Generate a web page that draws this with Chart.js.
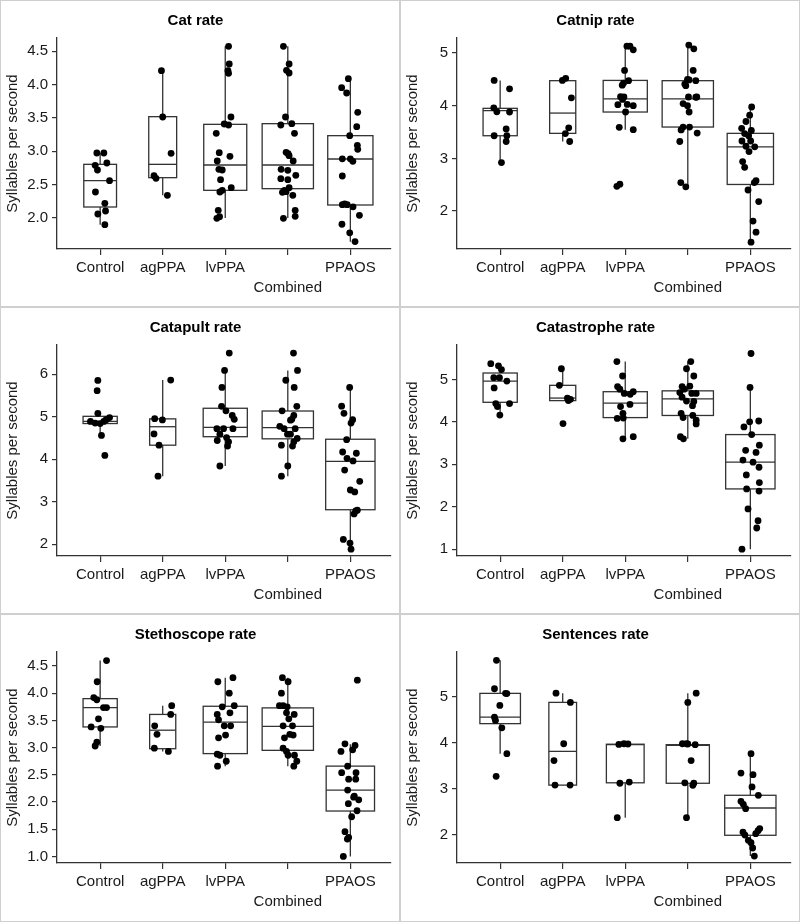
<!DOCTYPE html>
<html><head><meta charset="utf-8">
<script src="https://cdn.jsdelivr.net/npm/chart.js@4.4.1/dist/chart.umd.min.js"></script>
<style>
html,body{margin:0;padding:0;background:#fff;}
#wrap{position:relative;width:800px;height:922px;overflow:hidden;background:#fff;}
#wrap canvas{position:absolute;}
.sep{position:absolute;background:#cfcfcf;z-index:5;}
</style></head>
<body><div id="wrap"></div>
<script>
// ---------- shared categories / labels ----------
const categories = ['Control', 'agPPA', 'lvPPA', 'Combined', 'PPAOS'];
const xTickLabels = ['Control', 'agPPA', 'lvPPA', ['', 'Combined'], 'PPAOS'];
const yAxisTitle = 'Syllables per second';

// ---------- Cat rate ----------
const catRateValues = [
  [2.975, 2.975, 2.79, 2.72, 2.825, 2.56, 2.39, 2.22, 2.06, 2.105, 1.9],
  [4.21, 3.515, 2.97, 2.635, 2.595, 2.34],
  [4.575, 4.31, 4.21, 4.17, 3.515, 3.41, 3.395, 3.27, 2.98, 2.925, 2.855, 2.73, 2.72, 2.575, 2.455, 2.415, 2.39, 2.115, 1.995, 2.02],
  [4.575, 4.31, 4.215, 4.175, 3.515, 3.395, 3.415, 3.27, 2.985, 2.965, 2.935, 2.855, 2.73, 2.715, 2.64, 2.59, 2.575, 2.455, 2.415, 2.385, 2.395, 2.34, 2.115, 1.995, 2.025],
  [4.09, 3.955, 3.875, 3.585, 3.37, 3.235, 3.09, 3.03, 2.887, 2.887, 2.85, 2.63, 2.2, 2.21, 2.2, 2.167, 2.04, 1.906, 1.777, 1.647]
];
const catRateJitter = [
  [-0.053, 0.059, -0.08, -0.043, 0.107, 0.15, -0.075, 0.075, -0.037, 0.086, 0.075],
  [-0.02, 0, 0.134, -0.139, -0.107, 0.075],
  [0.053, 0.064, 0.043, 0.053, 0.091, -0.016, 0.053, -0.144, -0.096, 0.075, -0.128, -0.102, -0.048, -0.075, 0.096, -0.048, -0.086, -0.112, -0.134, -0.091],
  [-0.07, 0.021, -0.021, 0.021, -0.037, -0.112, 0.064, 0.107, -0.027, 0.005, 0.021, 0.086, -0.107, 0, 0.128, -0.112, 0, 0.021, -0.053, -0.086, -0.027, 0.08, 0.118, -0.07, 0.118],
  [-0.032, -0.139, -0.059, 0.118, 0.102, -0.01, 0.112, 0.118, -0.128, 0, 0.04, -0.128, -0.128, -0.09, -0.05, 0.043, 0.145, -0.134, -0.01, 0.075]
];
// [lower whisker, Q1, median, Q3, upper whisker]
const catRateBoxes = [
  [1.90, 2.165, 2.56, 2.805, 2.975],
  [2.34, 2.605, 2.805, 3.52, 4.21],
  [2.00, 2.415, 2.795, 3.405, 4.575],
  [2.00, 2.44, 2.795, 3.415, 4.575],
  [1.645, 2.195, 2.885, 3.235, 4.09]
];
const catRateN = [11, 8, 19, 27, 21];
const catRateYRange = [1.535, 4.70];
const catRateYTicks = [2.0, 2.5, 3.0, 3.5, 4.0, 4.5];
const catRateYTickLabels = ['2.0', '2.5', '3.0', '3.5', '4.0', '4.5'];

// ---------- Catnip rate ----------
const catnipRateValues = [
  [4.48, 4.32, 3.96, 3.885, 3.88, 3.56, 3.43, 3.43, 3.32, 2.92],
  [4.48, 4.52, 4.15, 3.58, 3.47, 3.32],
  [5.13, 5.13, 5.06, 4.67, 4.475, 4.39, 4.43, 4.17, 4.165, 4.12, 4.025, 4.0, 4.02, 3.88, 3.59, 3.545, 2.47, 2.51],
  [5.15, 5.08, 4.67, 4.49, 4.475, 4.41, 4.38, 4.5, 4.165, 4.165, 4.04, 4.0, 4.16, 3.88, 3.595, 3.595, 3.32, 3.48, 3.54, 2.54, 2.46],
  [3.975, 3.82, 3.70, 3.57, 3.53, 3.47, 3.43, 3.33, 3.33, 3.22, 3.23, 3.13, 2.94, 2.83, 2.54, 2.575, 2.40, 2.18, 1.81, 1.60, 1.41]
];
const catnipRateJitter = [
  [-0.096, 0.15, -0.102, -0.053, 0.15, 0.096, -0.096, 0.107, 0.096, 0.021],
  [-0.005, 0.048, 0.139, 0.096, 0.043, 0.112],
  [0.027, 0.075, 0.128, -0.011, 0.053, -0.048, -0.027, -0.075, -0.021, -0.043, 0.032, 0.128, -0.118, 0.005, -0.096, 0.128, -0.134, -0.086],
  [0.016, 0.096, 0.086, 0.021, 0.128, -0.048, -0.032, -0.005, 0.011, 0.144, -0.075, -0.005, 0.128, 0.021, -0.075, 0.027, -0.128, 0.15, -0.107, -0.112, -0.032],
  [0.021, -0.011, -0.07, -0.139, 0.016, -0.091, -0.027, -0.134, 0.005, 0.07, -0.07, -0.021, -0.123, -0.091, 0.064, 0.091, -0.037, 0.134, 0.043, 0.091, 0.011]
];
const catnipRateBoxes = [
  [2.92, 3.43, 3.905, 3.95, 4.48],
  [3.32, 3.475, 3.86, 4.475, 4.52],
  [3.545, 3.88, 4.13, 4.48, 5.13],
  [2.46, 3.595, 4.13, 4.475, 5.13],
  [1.41, 2.505, 3.22, 3.475, 3.975]
];
const catnipRateN = [12, 7, 20, 27, 22];
const catnipRateYRange = [1.28, 5.285];
const catnipRateYTicks = [2, 3, 4, 5];
const catnipRateYTickLabels = ['2', '3', '4', '5'];

// ---------- Catapult rate ----------
const catapultRateValues = [
  [5.855, 5.615, 5.08, 4.98, 4.89, 4.85, 4.84, 4.89, 4.56, 4.09, 4.93],
  [5.865, 4.955, 4.925, 4.595, 4.33, 3.60],
  [6.5, 6.09, 5.69, 5.245, 5.14, 5.03, 4.94, 4.72, 4.72, 4.72, 4.59, 4.51, 4.44, 4.41, 4.31, 3.84],
  [6.5, 6.09, 5.86, 5.69, 5.245, 5.14, 5.03, 4.94, 4.92, 4.775, 4.72, 4.72, 4.59, 4.59, 4.49, 4.41, 4.31, 4.33, 3.84, 3.60],
  [5.69, 5.25, 5.08, 4.93, 4.85, 4.46, 4.17, 4.02, 3.96, 4.14, 3.745, 3.48, 3.275, 3.23, 2.80, 2.71, 2.78, 2.11, 2.025, 1.88]
];
const catapultRateJitter = [
  [-0.037, -0.048, -0.037, 0.15, -0.155, -0.08, 0, 0.059, 0.021, 0.075, 0.096],
  [0.128, -0.128, -0.005, -0.139, -0.059, -0.075],
  [0.064, -0.011, -0.053, -0.059, 0.011, 0.112, 0.144, -0.134, -0.027, 0.123, -0.086, 0.021, -0.128, 0.053, 0.037, -0.086],
  [0.091, 0.155, -0.032, 0.102, 0.144, -0.091, 0.096, 0.064, 0.043, -0.128, -0.059, 0.118, -0.005, 0.043, 0.15, 0.096, 0.075, -0.102, 0, -0.102],
  [-0.011, -0.139, -0.102, 0.037, 0.011, -0.059, -0.123, -0.053, 0.043, 0.096, -0.091, 0.15, 0, 0.07, 0.112, 0.059, 0.086, -0.112, -0.005, 0.011]
];
const catapultRateBoxes = [
  [4.56, 4.84, 4.89, 5.01, 5.07],
  [3.60, 4.33, 4.765, 4.95, 5.865],
  [3.84, 4.53, 4.75, 5.20, 6.09],
  [3.60, 4.48, 4.745, 5.135, 6.09],
  [1.88, 2.81, 3.95, 4.47, 5.69]
];
const catapultRateN = [12, 7, 20, 27, 25];
const catapultRateYRange = [1.72, 6.69];
const catapultRateYTicks = [2, 3, 4, 5, 6];
const catapultRateYTickLabels = ['2', '3', '4', '5', '6'];

// ---------- Catastrophe rate ----------
const catastropheRateValues = [
  [5.37, 5.32, 5.23, 5.04, 5.04, 4.96, 4.80, 4.43, 4.43, 4.36, 4.16],
  [5.25, 4.86, 4.56, 4.53, 4.50, 3.96],
  [5.42, 5.08, 4.83, 4.77, 4.67, 4.71, 4.65, 4.36, 4.41, 4.20, 4.08, 4.09, 3.60, 3.65],
  [5.42, 5.25, 5.08, 4.83, 4.84, 4.77, 4.69, 4.67, 4.67, 4.58, 4.49, 4.48, 4.38, 4.20, 4.10, 4.15, 4.04, 3.95, 3.65, 3.60],
  [5.61, 4.81, 4.0, 4.02, 3.88, 3.70, 3.45, 3.33, 3.28, 3.10, 3.05, 2.93, 2.75, 2.57, 2.42, 2.37, 1.95, 1.67, 1.50, 1.0]
];
const catastropheRateJitter = [
  [-0.15, -0.027, 0.021, -0.102, -0.011, 0.107, -0.096, -0.07, 0.15, -0.043, -0.005],
  [-0.021, -0.053, 0.075, 0.123, 0.091, 0.005],
  [-0.134, -0.043, -0.123, -0.086, -0.016, 0.128, 0.08, -0.075, 0.075, -0.037, -0.128, -0.032, -0.037, 0.128],
  [0.048, -0.021, 0.096, -0.091, 0.032, -0.059, -0.128, 0.064, 0.134, -0.091, -0.021, 0.096, 0.075, -0.107, -0.075, 0.08, 0.134, 0.134, -0.118, -0.07],
  [0.011, -0.005, -0.011, 0.134, -0.102, 0.021, 0.144, -0.075, 0.091, -0.118, 0.043, 0.139, -0.064, 0.144, -0.059, 0.139, -0.037, 0.123, 0.102, -0.134]
];
const catastropheRateBoxes = [
  [4.16, 4.46, 4.96, 5.15, 5.37],
  [4.50, 4.50, 4.56, 4.86, 5.25],
  [3.60, 4.10, 4.44, 4.71, 5.42],
  [3.60, 4.15, 4.54, 4.73, 5.42],
  [1.0, 2.42, 3.05, 3.70, 4.81]
];
const catastropheRateN = [12, 7, 20, 27, 25];
const catastropheRateYRange = [0.84, 5.81];
const catastropheRateYTicks = [1, 2, 3, 4, 5];
const catastropheRateYTickLabels = ['1', '2', '3', '4', '5'];

// ---------- Stethoscope rate ----------
const stethoscopeRateValues = [
  [4.60, 4.21, 3.92, 3.88, 3.735, 3.735, 3.53, 3.38, 3.355, 3.10, 3.03],
  [3.77, 3.61, 3.40, 3.245, 2.99, 2.93],
  [4.285, 4.21, 4.0, 3.75, 3.77, 3.64, 3.61, 3.51, 3.40, 3.40, 3.23, 3.18, 2.88, 2.86, 2.75, 2.66],
  [4.285, 4.21, 4.0, 3.77, 3.77, 3.64, 3.53, 3.61, 3.40, 3.40, 3.245, 3.23, 3.18, 2.99, 2.93, 2.86, 2.86, 2.75, 2.66, 3.75],
  [4.24, 3.07, 3.04, 2.93, 2.96, 2.66, 2.54, 2.54, 2.42, 2.42, 2.22, 2.11, 2.09, 2.04, 1.97, 1.84, 1.73, 1.456, 1.35, 1.32, 1.0]
];
const stethoscopeRateJitter = [
  [0.102, -0.048, -0.102, -0.053, 0.053, 0.102, -0.027, -0.144, 0.011, -0.053, -0.08],
  [0.144, 0.128, -0.128, -0.091, -0.134, 0.091],
  [0.123, -0.118, 0.064, -0.048, 0.144, 0.075, -0.128, -0.107, -0.016, 0.086, 0.005, -0.107, -0.128, -0.086, 0.016, -0.123],
  [-0.086, 0.005, -0.102, -0.134, -0.075, -0.021, 0.016, 0.102, -0.075, 0.075, 0.032, 0.086, -0.053, -0.075, -0.021, 0.005, 0.107, 0.144, 0.096, -0.011],
  [0.112, -0.086, 0.075, -0.15, 0.037, -0.043, -0.139, 0.091, -0.027, 0.086, -0.043, 0.064, 0.053, 0.134, -0.032, 0.107, 0.021, -0.086, -0.027, -0.048, -0.112]
];
const stethoscopeRateBoxes = [
  [3.03, 3.38, 3.735, 3.90, 4.60],
  [2.93, 2.98, 3.32, 3.61, 3.77],
  [2.66, 2.89, 3.47, 3.76, 4.285],
  [2.66, 2.95, 3.39, 3.73, 4.285],
  [1.0, 1.835, 2.22, 2.66, 3.06]
];
const stethoscopeRateN = [12, 7, 20, 27, 24];
const stethoscopeRateYRange = [0.88, 4.757];
const stethoscopeRateYTicks = [1.0, 1.5, 2.0, 2.5, 3.0, 3.5, 4.0, 4.5];
const stethoscopeRateYTickLabels = ['1.0', '1.5', '2.0', '2.5', '3.0', '3.5', '4.0', '4.5'];

// ---------- Sentences rate ----------
const sentencesRateValues = [
  [5.78, 5.165, 5.065, 5.06, 4.805, 4.55, 4.48, 4.32, 3.76, 3.27],
  [5.07, 4.87, 3.975, 3.61, 3.08, 3.08],
  [3.96, 3.975, 3.97, 3.12, 3.145, 2.375],
  [5.07, 4.87, 3.975, 3.975, 3.955, 3.61, 3.13, 3.075, 3.12, 2.375, 3.97],
  [3.76, 3.34, 3.305, 3.04, 2.86, 2.73, 2.665, 2.57, 2.065, 2.095, 2.14, 2.03, 2.0, 1.885, 1.835, 1.72, 1.545]
];
const sentencesRateJitter = [
  [-0.059, -0.091, 0.086, 0.107, -0.005, -0.091, -0.075, 0.027, 0.107, -0.064],
  [-0.107, 0.123, 0.016, -0.139, -0.123, 0.118],
  [-0.102, -0.021, 0.043, -0.086, 0.064, -0.128],
  [0.134, 0, -0.086, -0.021, 0.118, 0.053, -0.048, 0.08, 0.096, -0.021, 0],
  [0.011, -0.15, 0.043, 0.027, 0.128, -0.15, -0.112, -0.075, -0.118, 0.123, 0.15, 0.086, -0.086, -0.032, 0.011, 0.037, 0.064]
];
const sentencesRateBoxes = [
  [3.76, 4.41, 4.55, 5.065, 5.78],
  [3.08, 3.08, 3.81, 4.87, 5.07],
  [2.375, 3.13, 3.955, 3.965, 3.975],
  [2.375, 3.12, 3.94, 3.955, 5.07],
  [1.545, 1.995, 2.585, 2.86, 3.76]
];
const sentencesRateN = [15, 7, 13, 17, 24];
const sentencesRateYRange = [1.395, 5.96];
const sentencesRateYTicks = [2, 3, 4, 5];
const sentencesRateYTickLabels = ['2', '3', '4', '5'];

// ---------- panel list ----------
const panels = [
  {title: 'Cat rate', values: catRateValues, jitter: catRateJitter, boxes: catRateBoxes, n: catRateN, yRange: catRateYRange, yTicks: catRateYTicks, yLabels: catRateYTickLabels},
  {title: 'Catnip rate', values: catnipRateValues, jitter: catnipRateJitter, boxes: catnipRateBoxes, n: catnipRateN, yRange: catnipRateYRange, yTicks: catnipRateYTicks, yLabels: catnipRateYTickLabels},
  {title: 'Catapult rate', values: catapultRateValues, jitter: catapultRateJitter, boxes: catapultRateBoxes, n: catapultRateN, yRange: catapultRateYRange, yTicks: catapultRateYTicks, yLabels: catapultRateYTickLabels},
  {title: 'Catastrophe rate', values: catastropheRateValues, jitter: catastropheRateJitter, boxes: catastropheRateBoxes, n: catastropheRateN, yRange: catastropheRateYRange, yTicks: catastropheRateYTicks, yLabels: catastropheRateYTickLabels},
  {title: 'Stethoscope rate', values: stethoscopeRateValues, jitter: stethoscopeRateJitter, boxes: stethoscopeRateBoxes, n: stethoscopeRateN, yRange: stethoscopeRateYRange, yTicks: stethoscopeRateYTicks, yLabels: stethoscopeRateYTickLabels},
  {title: 'Sentences rate', values: sentencesRateValues, jitter: sentencesRateJitter, boxes: sentencesRateBoxes, n: sentencesRateN, yRange: sentencesRateYRange, yTicks: sentencesRateYTicks, yLabels: sentencesRateYTickLabels}
];

// ---------- style ----------
const FONT = "'Liberation Sans', Arial, Helvetica, sans-serif";
const AXIS_COLOR = '#333333';
const TEXT_COLOR = '#1a1a1a';
const BOX_FULL_WIDTH = 0.82;   // in category units, for the largest group
const PANEL_W = 400, PANEL_H = 307;

function makeBoxPlugin(p) {
  return {
    id: 'boxplots',
    beforeDatasetsDraw(chart) {
      const {ctx, scales: {x, y}} = chart;
      const nmax = Math.max(...p.n);
      ctx.save();
      ctx.strokeStyle = AXIS_COLOR;
      ctx.lineWidth = 1.3;
      p.boxes.forEach((b, i) => {
        const hw = BOX_FULL_WIDTH / 2 * Math.sqrt(p.n[i] / nmax);
        const xl = x.getPixelForValue(i - hw);
        const xr = x.getPixelForValue(i + hw);
        const xc = x.getPixelForValue(i);
        const lo = y.getPixelForValue(b[0]);
        const q1 = y.getPixelForValue(b[1]);
        const med = y.getPixelForValue(b[2]);
        const q3 = y.getPixelForValue(b[3]);
        const hi = y.getPixelForValue(b[4]);
        ctx.beginPath();
        ctx.moveTo(xc, q3); ctx.lineTo(xc, hi);
        ctx.moveTo(xc, q1); ctx.lineTo(xc, lo);
        ctx.stroke();
        ctx.fillStyle = '#ffffff';
        ctx.fillRect(xl, q3, xr - xl, q1 - q3);
        ctx.strokeRect(xl, q3, xr - xl, q1 - q3);
        ctx.beginPath();
        ctx.moveTo(xl, med); ctx.lineTo(xr, med);
        ctx.stroke();
      });
      ctx.restore();
    }
  };
}

const wrap = document.getElementById('wrap');
panels.forEach((p, k) => {
  const col = k % 2, row = Math.floor(k / 2);
  const cv = document.createElement('canvas');
  cv.width = PANEL_W; cv.height = PANEL_H;
  cv.style.left = (col * PANEL_W) + 'px';
  cv.style.top = (row * PANEL_H) + 'px';
  cv.style.width = PANEL_W + 'px';
  cv.style.height = PANEL_H + 'px';
  wrap.appendChild(cv);

  const pts = [];
  p.values.forEach((vals, i) => {
    vals.forEach((v, j) => pts.push({x: i + p.jitter[i][j], y: v}));
  });

  new Chart(cv, {
    type: 'scatter',
    data: {datasets: [{
      data: pts,
      pointRadius: 3.4,
      pointBackgroundColor: '#000',
      pointBorderWidth: 0,
      pointHoverRadius: 3.4
    }]},
    plugins: [makeBoxPlugin(p)],
    options: {
      responsive: false,
      animation: false,
      events: [],
      layout: {padding: {left: 0, right: 9, top: 0, bottom: 0}},
      plugins: {
        legend: {display: false},
        tooltip: {enabled: false},
        title: {
          display: true, text: p.title, color: '#000',
          font: {family: FONT, size: 15, weight: 'bold', lineHeight: 1.2},
          padding: {top: 11.5, bottom: 8.5}
        }
      },
      scales: {
        x: {
          type: 'linear', min: -0.69, max: 4.65,
          afterBuildTicks: s => { s.ticks = categories.map((c, i) => ({value: i})); },
          afterFit: s => { s.height = 58; },
          grid: {display: true, drawOnChartArea: false, drawTicks: true, tickLength: 6, color: AXIS_COLOR, lineWidth: 1.2},
          border: {display: true, color: AXIS_COLOR, width: 1.3},
          ticks: {
            callback: (v, i) => xTickLabels[i],
            color: TEXT_COLOR, padding: 3, maxRotation: 0, autoSkip: false,
            font: {family: FONT, size: 15, lineHeight: 1.33}
          }
        },
        y: {
          type: 'linear', min: p.yRange[0], max: p.yRange[1],
          afterBuildTicks: s => { s.ticks = p.yTicks.map(v => ({value: v})); },
          afterFit: s => { s.width = 57; },
          grid: {display: true, drawOnChartArea: false, drawTicks: true, tickLength: 5, color: AXIS_COLOR, lineWidth: 1.2},
          border: {display: true, color: AXIS_COLOR, width: 1.3},
          ticks: {
            callback: (v, i) => p.yLabels[i],
            color: TEXT_COLOR, padding: 4, autoSkip: false,
            font: {family: FONT, size: 15}
          },
          title: {
            display: true, text: yAxisTitle, color: TEXT_COLOR,
            font: {family: FONT, size: 15, lineHeight: 1.2},
            padding: {top: 3.5, bottom: 0}
          }
        }
      }
    }
  });
});

// panel separators
function sep(l, t, w, h) {
  const d = document.createElement('div');
  d.className = 'sep';
  d.style.left = l + 'px'; d.style.top = t + 'px';
  d.style.width = w + 'px'; d.style.height = h + 'px';
  wrap.appendChild(d);
}
sep(0, 0, 800, 1);
sep(0, 306, 800, 2);
sep(0, 613, 800, 2);
sep(0, 921, 800, 1);
sep(0, 0, 1, 922);
sep(399, 0, 2, 922);
sep(799, 0, 1, 922);
</script>
</body></html>
